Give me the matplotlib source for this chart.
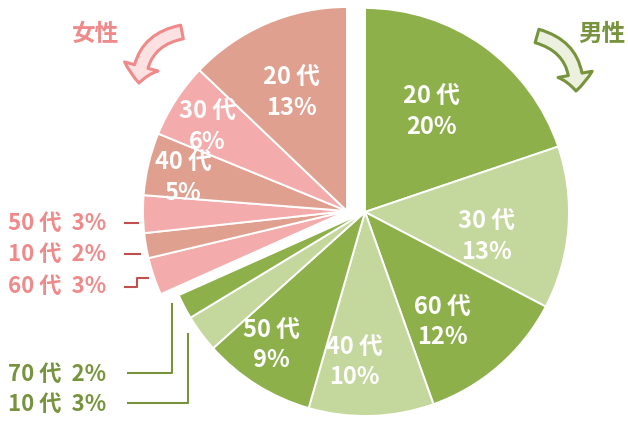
import matplotlib.pyplot as plt
from matplotlib.patches import FancyArrowPatch
import numpy as np

plt.rcParams['font.family'] = ['Noto Sans CJK JP', 'DejaVu Sans']

# data (clockwise from 12 o'clock)
male_ages = ['20 代', '30 代', '60 代', '40 代', '50 代', '10 代', '70 代']
male_pct = [20, 13, 12, 10, 9, 3, 2]
female_ages = ['60 代', '10 代', '50 代', '40 代', '30 代', '20 代']
female_pct = [3, 2, 3, 5, 6, 13]

total = sum(male_pct) + sum(female_pct)

green_dark, green_light = '#8DB04B', '#C4D79C'
pink_dark, pink_light = '#DFA08F', '#F4ABAB'
green_txt, pink_txt = '#77933C', '#F08A8A'
green_line, pink_line = '#77933C', '#C0504D'

W, H = 628, 424
fig = plt.figure(figsize=(W / 100, H / 100), dpi=100)
ax = fig.add_axes([0, 0, 1, 1])

R = 204
c_male = (365, H - 212)
c_female = (347, H - 211)

wp = dict(edgecolor='white', linewidth=1.4)
m_wedges, _ = ax.pie(np.array(male_pct) / total, startangle=90, counterclock=False,
                     center=c_male, radius=R, normalize=False, wedgeprops=wp,
                     colors=[green_dark, green_light] * 4)
f_start = 90 - 360 * sum(male_pct) / total
f_wedges, _ = ax.pie(np.array(female_pct) / total, startangle=f_start, counterclock=False,
                     center=c_female, radius=R, normalize=False, wedgeprops=wp,
                     colors=[pink_light, pink_dark] * 3)


def inner_label(w, c, text, frac, turn=0):
    mid = np.deg2rad((w.theta1 + w.theta2) / 2 - turn)
    x = c[0] + R * frac * np.cos(mid)
    y = c[1] + R * frac * np.sin(mid)
    ax.text(x, y, text, ha='center', va='center', color='white', fontsize=17,
            fontweight='bold', linespacing=1.3)


# label radius as a fraction of the pie radius, small clockwise nudge in degrees
m_frac = [0.59, 0.61, 0.66, 0.74, 0.8]
m_turn = [-2, 7, 6, 6, 3]
for w, a, p, fr, t in zip(m_wedges, male_ages, male_pct, m_frac, m_turn):
    inner_label(w, c_male, f'{a}\n{p}%', fr, t)
f_frac = {3: 0.82, 4: 0.8, 5: 0.64}
for i, fr in f_frac.items():
    inner_label(f_wedges[i], c_female, f'{female_ages[i]}\n{female_pct[i]}%', fr, -2)

# outside labels for the small slices
for i, y in zip([2, 1, 0], [223, 254, 286]):
    ax.text(8, H - y, f'{female_ages[i]}  {female_pct[i]}%', ha='left', va='center',
            color=pink_txt, fontsize=16, fontweight='bold')
for i, y in zip([6, 5], [374, 404]):
    ax.text(8, H - y, f'{male_ages[i]}  {male_pct[i]}%', ha='left', va='center',
            color=green_txt, fontsize=16, fontweight='bold')

# leader lines
ax.plot([125, 138], [H - 223, H - 223], color=pink_line, lw=1.5)
ax.plot([125, 140], [H - 254, H - 254], color=pink_line, lw=1.5)
ax.plot([125, 137, 137, 148], [H - 287, H - 287, H - 278, H - 278], color=pink_line, lw=1.5)
ax.plot([128, 172, 172], [H - 373, H - 373, H - 304], color=green_line, lw=1.5)
ax.plot([128, 188, 188], [H - 403, H - 403, H - 334], color=green_line, lw=1.5)

# headings with curved arrows
ax.text(96, H - 34, '女性', ha='center', va='center', color=pink_txt, fontsize=17,
        fontweight='bold')
ax.text(602, H - 34, '男性', ha='center', va='center', color=green_txt, fontsize=17,
        fontweight='bold')
style = 'simple,head_width=25,head_length=12,tail_width=10'
ax.add_patch(FancyArrowPatch((182, H - 32), (139, H - 83), arrowstyle=style,
                             connectionstyle='arc3,rad=0.4', mutation_scale=1,
                             shrinkA=0, shrinkB=0, fc='#FBE1E1', ec=pink_txt, lw=2.2))
ax.add_patch(FancyArrowPatch((537, H - 36), (576, H - 91), arrowstyle=style,
                             connectionstyle='arc3,rad=-0.4', mutation_scale=1,
                             shrinkA=0, shrinkB=0, fc='#EBF1DE', ec=green_line, lw=2.2))

ax.set_xlim(0, W)
ax.set_ylim(0, H)
ax.set_aspect('equal')
ax.axis('off')
fig.savefig('out.png', dpi=100)
